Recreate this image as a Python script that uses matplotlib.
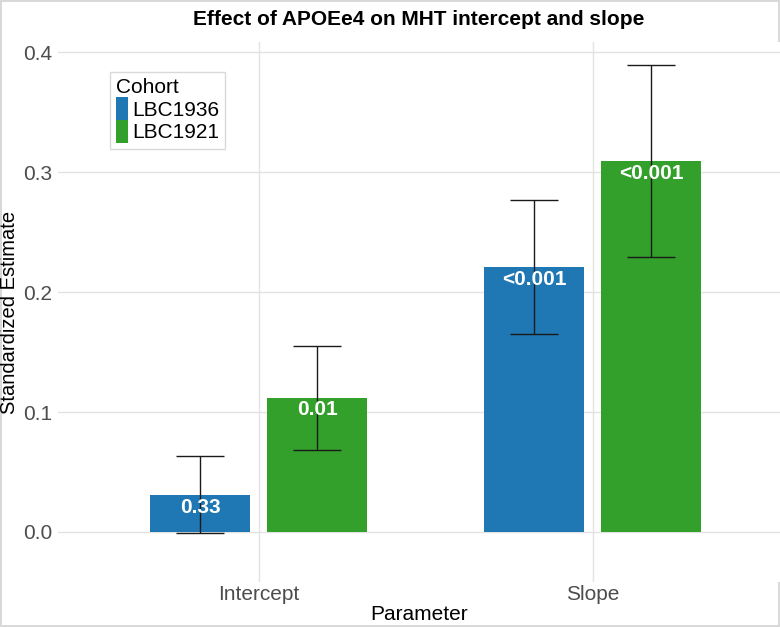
import matplotlib.pyplot as plt
import numpy as np

# data
parameters = ['Intercept', 'Slope']
cohorts = ['LBC1936', 'LBC1921']
estimates = {'LBC1936': [0.031, 0.221], 'LBC1921': [0.112, 0.309]}
lower = {'LBC1936': [-0.001, 0.165], 'LBC1921': [0.068, 0.229]}
upper = {'LBC1936': [0.063, 0.277], 'LBC1921': [0.155, 0.389]}
pvals = {'LBC1936': ['0.33', '<0.001'], 'LBC1921': ['0.01', '<0.001']}
colors = {'LBC1936': '#1f78b4', 'LBC1921': '#33a02c'}

plt.rcParams['font.family'] = ['Liberation Sans', 'DejaVu Sans']

fig = plt.figure(figsize=(7.8, 6.27), dpi=100)
fig.patch.set_edgecolor('#d9d9d9')
fig.patch.set_linewidth(1.5)
ax = fig.add_axes([58 / 780, 1 - 582 / 627, 1 - 58 / 780, (582 - 42) / 627])

x = np.arange(len(parameters))
offsets = {'LBC1936': -0.175, 'LBC1921': 0.175}
for c in cohorts:
    xs = x + offsets[c]
    est = np.array(estimates[c])
    ax.bar(xs, est, width=0.3, color=colors[c], label=c, zorder=2)
    err = [est - np.array(lower[c]), np.array(upper[c]) - est]
    ax.errorbar(xs, est, yerr=err, fmt='none', ecolor='#1a1a1a', elinewidth=1,
                capsize=17, capthick=1, zorder=3)
    for xi, yi, p in zip(xs, est, pvals[c]):
        ax.annotate(p, (xi, yi), xytext=(0, -2), textcoords='offset points',
                    ha='center', va='top', color='white', fontweight='bold',
                    fontsize=15, zorder=4)

ax.set_xlim(-0.6, 1.56)
ax.set_ylim(-0.0417, 0.4085)
ax.set_xticks(x)
ax.set_xticklabels(parameters)
ax.set_yticks([0.0, 0.1, 0.2, 0.3, 0.4])
ax.set_yticklabels(['0.0', '0.1', '0.2', '0.3', '0.4'])
ax.grid(True, color='#e3e3e3', linewidth=1)
ax.set_axisbelow(True)
for s in ax.spines.values():
    s.set_visible(False)
ax.tick_params(colors='#d0d0d0', labelcolor='#4d4d4d', labelsize=15, length=0)
ax.tick_params(axis='x', pad=2)
ax.tick_params(axis='y', pad=4)

ax.set_xlabel('Parameter', fontsize=15, labelpad=1)
ax.set_ylabel('Standardized Estimate', fontsize=14.5)
ax.yaxis.set_label_coords(-39 / 722, 0.5)
ax.set_title('Effect of APOEe4 on MHT intercept and slope', fontsize=15,
             fontweight='bold', pad=12)

leg = ax.legend(title='Cohort', loc='upper left',
                bbox_to_anchor=(110 / 780, 1 - 72 / 627),
                bbox_transform=fig.transFigure, fontsize=15, title_fontsize=15,
                frameon=True, fancybox=False, edgecolor='#d0d0d0',
                handlelength=0.55, handleheight=1.3, handletextpad=0.2,
                labelspacing=0.0, borderpad=0.3, borderaxespad=0)
leg._legend_box.align = 'left'
leg.get_frame().set_linewidth(1)

plt.savefig('out.png', dpi=100)
